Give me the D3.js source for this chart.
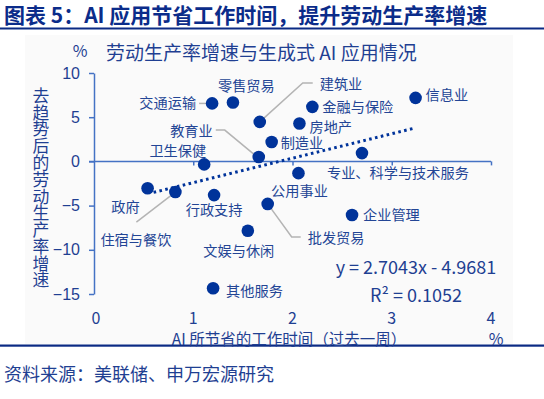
<!DOCTYPE html>
<html>
<head>
<meta charset="utf-8">
<script src="https://cdn.jsdelivr.net/npm/d3@7"></script>
<style>
  body { margin: 0; background: #fff; }
  svg { display: block; font-family: "Noto Sans CJK SC", "Noto Sans", sans-serif; }
  .lbl { fill: #234595; font-size: 14.2px; }
  .tick text { fill: #1f3f92; font-size: 16px; }
</style>
</head>
<body>
<svg width="544" height="399"></svg>
<script>
// industries, hours saved by AI (%), detrended productivity growth (%)
var industries = ["交通运输", "零售贸易", "建筑业", "教育业", "制造业", "卫生保健", "政府", "住宿与餐饮",
  "行政支持", "批发贸易", "公用事业", "专业、科学与技术服务", "企业管理", "文娱与休闲", "其他服务",
  "金融与保险", "房地产", "信息业"];
var timeSaved = [1.19, 1.40, 1.67, 1.66, 1.79, 1.11, 0.54, 0.82, 1.21, 1.75, 2.06, 2.70, 2.60, 1.55, 1.20, 2.20, 2.07, 3.24];
var growth = [6.56, 6.67, 4.47, 0.49, 2.19, -0.34, -3.03, -3.47, -3.81, -4.81, -1.33, 0.94, -6.06, -7.84, -14.35, 6.17, 4.28, 7.19];
var xTicks = [0, 1, 2, 3, 4];
var yTicks = [10, 5, 0, -5, -10, -15];
var slope = 2.7043, intercept = -4.9681, r2 = 0.1052;

// label placement (pixel offsets from the point) and leader lines
var labelPos = {
  "交通运输": [-16, 0, "end"], "零售贸易": [-15, -16, "start"], "建筑业": [60, -38, "start"],
  "教育业": [-46, -26, "end"], "制造业": [9, 1, "start"], "卫生保健": [2, -13, "end"],
  "政府": [-8, 19, "end"], "住宿与餐饮": [-4, 48, "end"], "行政支持": [0, 15, "middle"],
  "批发贸易": [40, 34, "start"], "公用事业": [1, 18, "middle"], "专业、科学与技术服务": [-35, 20, "start"],
  "企业管理": [11, 0, "start"], "文娱与休闲": [-9, 20, "middle"], "其他服务": [13, 3, "start"],
  "金融与保险": [10, 0, "start"], "房地产": [10, 3, "start"], "信息业": [10, -3, "start"]
};
var leaders = {
  "交通运输": [[-13, 0], [-5, 0]],
  "建筑业": [[0, 0], [43, -39], [53, -39]],
  "教育业": [[-43, -27], [-34, -27], [-5, -3]],
  "住宿与餐饮": [[-39, 30], [0, 0]],
  "批发贸易": [[0, 0], [24, 33], [33, 33]]
};

var svg = d3.select("svg");
var x = d3.scaleLinear().domain([0, 4]).range([94, 491]);
var y = d3.scaleLinear().domain([-15, 10]).range([294, 73]);
var blue = "#4472c4", ink = "#1f3f92";

// title and rules
svg.append("text").attr("x", 4).attr("y", 23).attr("fill", "#0b2c8a")
  .style("font-size", "21px").style("font-weight", "bold")
  .text("图表 5：AI 应用节省工作时间，提升劳动生产率增速");
svg.append("rect").attr("x", 0).attr("y", 27.5).attr("width", 544).attr("height", 2).attr("fill", "#0b2a84");
svg.append("rect").attr("x", 25).attr("y", 35).attr("width", 488).attr("height", 309).attr("fill", "#fafafa");
svg.append("rect").attr("x", 0).attr("y", 344.5).attr("width", 544).attr("height", 2.2).attr("fill", "#0b2a84");
svg.append("text").attr("x", 4).attr("y", 381).attr("fill", "#1f3f92")
  .style("font-size", "18px").text("资料来源：美联储、申万宏源研究");

svg.append("text").attr("x", 106).attr("y", 60).attr("fill", ink).style("font-size", "19px")
  .text("劳动生产率增速与生成式 AI 应用情况");
svg.append("text").attr("x", 80).attr("y", 57).attr("fill", ink).attr("text-anchor", "middle")
  .style("font-size", "16px").text("%");

// y axis
var yAxis = svg.append("g").attr("transform", "translate(" + x(0) + ",0)")
  .call(d3.axisLeft(y).tickValues(yTicks).tickSize(5).tickSizeOuter(0).tickPadding(9));
yAxis.select(".domain").attr("stroke", blue).attr("stroke-width", 1.5);
yAxis.selectAll(".tick line").attr("stroke", blue).attr("stroke-width", 1.5);

// x axis on zero line, labels at bottom
var xAxis = svg.append("g").attr("transform", "translate(0," + y(0) + ")")
  .call(d3.axisBottom(x).tickValues(xTicks.slice(1)).tickSize(4).tickSizeOuter(0).tickFormat(""));
xAxis.select(".domain").attr("stroke", blue).attr("stroke-width", 1.5).attr("d", "M" + (x(0) - 5) + ",0H" + x(4));
xAxis.selectAll(".tick line").attr("stroke", blue).attr("stroke-width", 1.5);
svg.append("g").selectAll("text").data(xTicks).join("text")
  .attr("x", function(d) { return x(d) + (d === 0 ? 2 : 0); }).attr("y", 324)
  .attr("text-anchor", "middle").attr("fill", ink).style("font-size", "16px")
  .text(function(d) { return d; });

svg.append("text").attr("x", 289).attr("y", 345).attr("text-anchor", "middle").attr("fill", ink)
  .style("font-size", "15.5px").text("AI 所节省的工作时间（过去一周）");
svg.append("text").attr("x", 496).attr("y", 345).attr("text-anchor", "middle").attr("fill", ink)
  .style("font-size", "16px").text("%");

// vertical y label
svg.append("text").attr("x", 41).attr("y", 87)
  .style("writing-mode", "vertical-rl").style("text-orientation", "upright")
  .attr("fill", ink).style("font-size", "16.8px")
  .text("去趋势后的劳动生产率增速");

// trend line
var xs = d3.extent(timeSaved);
svg.append("line")
  .attr("x1", x(xs[0]) + 6).attr("y1", y(slope * xs[0] + intercept))
  .attr("x2", x(xs[1])).attr("y2", y(slope * xs[1] + intercept))
  .attr("stroke", "#00339a").attr("stroke-width", 3).attr("stroke-dasharray", "2.6 3.4");

var data = industries.map(function(n, i) { return { name: n, x: timeSaved[i], y: growth[i] }; });

// leader lines
var line = d3.line();
svg.append("g").selectAll("path").data(data.filter(function(d) { return leaders[d.name]; })).join("path")
  .attr("fill", "none").attr("stroke", "#b4b4b4").attr("stroke-width", 1.5)
  .attr("d", function(d) {
    return line(leaders[d.name].map(function(p) { return [x(d.x) + p[0], y(d.y) + p[1]]; }));
  });

// points
svg.append("g").selectAll("circle").data(data).join("circle")
  .attr("cx", function(d) { return x(d.x); }).attr("cy", function(d) { return y(d.y); })
  .attr("r", 6.3).attr("fill", "#00339a");

// labels
svg.append("g").selectAll("text").data(data).join("text").attr("class", "lbl")
  .attr("x", function(d) { return x(d.x) + labelPos[d.name][0]; })
  .attr("y", function(d) { return y(d.y) + labelPos[d.name][1]; })
  .attr("dy", "0.35em").attr("text-anchor", function(d) { return labelPos[d.name][2]; })
  .text(function(d) { return d.name; });

// equation
svg.append("text").attr("x", 416).attr("y", 268).attr("dy", "0.35em").attr("text-anchor", "middle")
  .attr("fill", ink).style("font-size", "18px")
  .text("y = " + slope.toFixed(4) + "x - " + Math.abs(intercept).toFixed(4));
svg.append("text").attr("x", 416).attr("y", 296).attr("dy", "0.35em").attr("text-anchor", "middle")
  .attr("fill", ink).style("font-size", "18px").text("R² = " + r2.toFixed(4));
</script>
</body>
</html>
